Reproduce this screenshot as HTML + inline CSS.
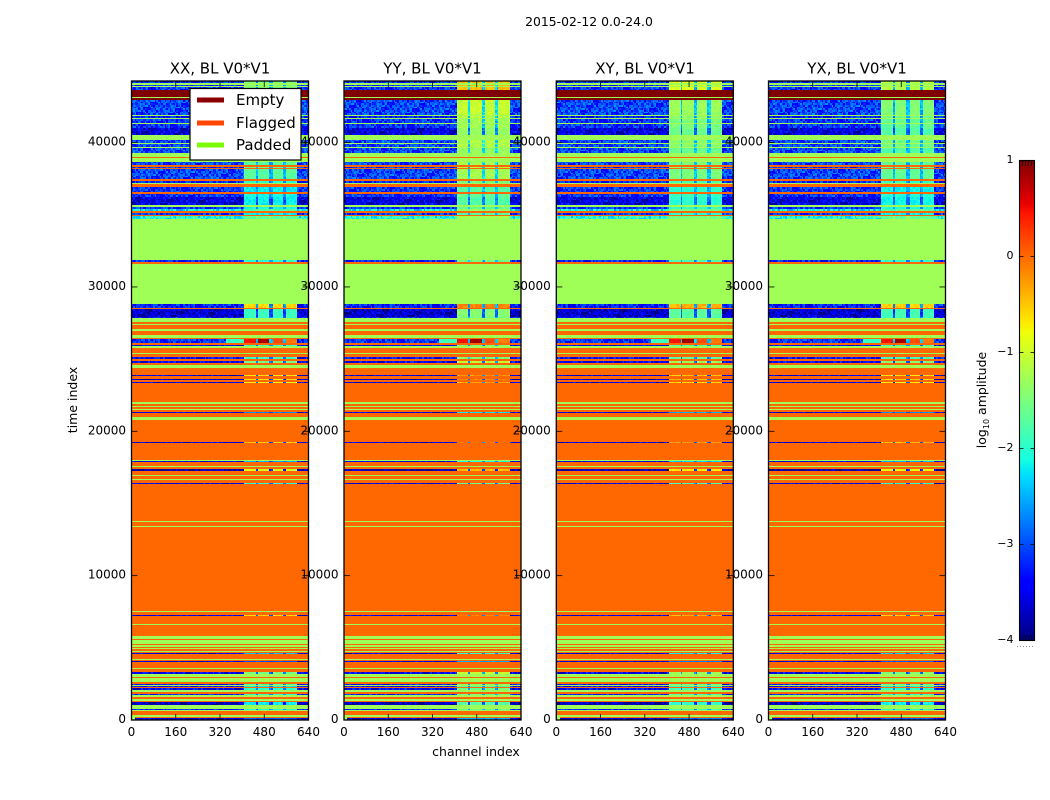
<!DOCTYPE html>
<html lang="en">
<head>
<meta charset="utf-8">
<title>2015-02-12 0.0-24.0</title>
<style>
html,body{margin:0;padding:0;background:#fff;}
svg{display:block;font-family:"DejaVu Sans","Liberation Sans",sans-serif;fill:#000;}
.cells rect{shape-rendering:crispEdges;}
</style>
</head>
<body>
<svg id="figure" width="1050" height="800" viewBox="0 0 1050 800" xmlns="http://www.w3.org/2000/svg">
  <rect width="1050" height="800" fill="#fff"/>
  <text x="589" y="26" font-size="12.4" text-anchor="middle">2015-02-12 0.0-24.0</text>
  <g id="panels"></g>
  <g font-size="15" text-anchor="middle">
    <text x="220" y="73.5">XX, BL V0*V1</text>
    <text x="432.5" y="73.5">YY, BL V0*V1</text>
    <text x="645" y="73.5">XY, BL V0*V1</text>
    <text x="857" y="73.5">YX, BL V0*V1</text>
  </g>
  <text x="476" y="756" font-size="12.5" text-anchor="middle">channel index</text>
  <text transform="translate(77 400) rotate(-90)" font-size="12.5" text-anchor="middle">time index</text>
  <g>
    <rect x="190" y="88.5" width="111" height="71.5" fill="#fff" stroke="#000" stroke-width="1.2"/>
    <rect x="197" y="97.5" width="27" height="5" fill="#8b0000"/>
    <text x="236" y="105" font-size="15" fill="#000">Empty</text>
    <rect x="197" y="120.5" width="27" height="5" fill="#ff4500"/>
    <text x="236" y="128" font-size="15" fill="#000">Flagged</text>
    <rect x="197" y="142.5" width="27" height="5" fill="#7cfc00"/>
    <text x="236" y="150" font-size="15" fill="#000">Padded</text>
  </g>
  <g id="colorbar"></g>
  <text transform="translate(986 400) rotate(-90)" font-size="12.5" text-anchor="middle">log<tspan font-size="8" dy="3">10</tspan><tspan dy="-3"> amplitude</tspan></text>
</svg>
<script>
// Time-index start of each horizontal band in the waterfall, bottom to top.
const bandStarts = [0,118,229,326,644,714,762,1039,1247,1337,1476,1614,1711,1801,1940,2099,2196,2286,2356,2425,2515,2633,2910,2979,3208,3305,3533,3603,4018,4087,4157,4226,4572,4642,4711,4801,4898,4988,5078,5175,5265,5563,5632,5820,6582,6651,7205,7274,7482,7552,13371,13440,13717,13787,16350,16419,16627,16696,16904,16974,17251,17389,17528,17597,17874,17943,18013,19191,19260,20784,20992,21269,21338,21477,21546,21685,21754,21892,22031,23347,23417,23555,23625,23832,23902,24408,24595,24733,24872,25010,25149,25357,25447,25772,25931,26000,26118,26361,26465,26673,26950,27088,27365,27435,27594,27850,27920,28474,28543,28820,31612,31751,31869,34674,34917,35007,35125,35263,35402,35540,35679,36233,36441,36545,36925,37134,37203,37342,37481,38153,38222,38333,38451,38680,38900,38970,39281,39628,39718,39905,39995,40182,40528,41018,41295,41365,41642,41711,41815,41919,42958,43096,43165,43650,43837,43927,44017,44114];
// log10 amplitude of each band outside the high-channel block.
const bandLevels = [-3.4,0,-1.28,0,-1.28,-3.1,-1.28,-3.6,0,-1.28,0,-1.28,-3.1,0,-1.28,-3.3,0,-3.2,-1.28,-3.2,0,-1.28,0,-1.28,-3.3,0,-1.28,0,-3.4,0,-1.28,0,-3.4,0,-1.28,0,-1.28,0,-1.28,0,-1.28,0,-1.28,0,-1.28,0,-3.4,0,-1.28,0,-1.28,0,-1.28,0,-3.4,0,-1.28,0,-1.28,0,-3.7,0,-1.28,0,-3.4,-1.28,0,-3.4,0,-1.28,0,-3.4,0,-1.28,0,-1.28,0,-1.28,0,-3.4,0,-3.5,0,-3.4,0,-1.28,0,-3.3,0,-3.2,0,-1.28,0,-1.28,-3.3,0,-3,0,-1.28,0,-1.28,0,-1.28,0,-1.28,-3.2,-3.5,0,-3.1,-1.28,0,-3.1,-1.28,-1.9,0,-3.0,0,-2.1,-3.0,-1.28,-3.4,-3.0,0,-3.0,0,-1.28,-3.1,0,-2.9,0,-3.0,0,-2.9,-1.28,0,-1.28,-2.9,-1.28,-2.9,-1.28,-2.9,-1.28,-3.4,-3.0,-1.28,-3,-1.28,-3.1,-1.28,-2.9,1,-1.28,1,-3,-1.28,-3,-1.28,-3];
// log10 amplitude of each band across channels 406-599; null marks a flat, noise-free band.
const bandHighLevels = [-3,null,null,null,null,-2,null,-2.2,null,null,null,null,-1.9,null,null,-2,null,-2.2,null,-1.8,null,null,null,null,-1.5,null,null,null,-3,null,null,null,-2.4,null,null,null,null,null,null,null,null,null,null,null,null,null,-0.6,null,null,null,null,null,null,null,-2,null,null,null,null,null,-0.9,null,null,null,-2.5,null,null,-0.5,null,null,null,-2.7,null,null,null,null,null,null,null,-0.8,null,-0.6,null,-0.7,null,null,null,-1.5,null,-1.9,null,null,null,null,-1.9,null,0.5,null,null,null,null,null,null,null,null,-2,-1.9,null,-0.6,null,null,-2,null,-1.7,null,-2.2,null,-1.8,-2.1,null,-2.2,-2.1,null,-2.2,null,null,-2,null,-1.7,null,-1.6,null,-1.7,null,null,null,-1.8,null,-1.6,null,-1.6,null,-1.8,-1.7,null,-1.7,null,-1.6,null,-1.5,null,null,null,-1.5,null,-1.5,null,-1.5];
// Amplitude shift of the high-channel block in each panel, and the panel names.
const panelNames = ['xx','yy','xy','yx'];
const panelHighGain = [0,0.45,0.2,0.05];
// Extra shift of the topmost bands (time index above topBandsFrom) in each panel.
const panelTopGain = [0,0.6,0.4,0.3];
const topBandsFrom = [43650];
// Offsets of the strongest band's four high-channel segments.
const hotOffsets = [-0.05,0.35,-0.35,-0.6];
// Hand-estimated speckle texture for the noisy bands.
const speckle = [0.32,-0.41,0.12,0.5,-0.18,-0.52,0.27,0.05,-0.33,0.44,-0.09,0.21,-0.47,0.36,-0.25,0.02,0.53,-0.38,0.15,-0.12,-0.55,0.41,0.08,-0.29,0.24,-0.44,0.48,-0.03,0.19,-0.36,0.3,-0.21,0.11,-0.5,0.39,-0.07,0.46,-0.31,0.17,-0.15,0.26,-0.42,0.01,0.34,-0.49,0.43,-0.24,0.09,-0.11,0.51,-0.35,0.22,-0.46,0.14,0.37,-0.27,0.04,-0.19,0.29,-0.39,0.45];
// Padded patch in the bottom-left corner of each panel: channels and time span.
const cornerChannels = [12];
const cornerTimes = [300];
// Tick labels.
const xTicks = [0,160,320,480,640];
const yTicks = [0,10000,20000,30000,40000];
const colorTicks = [1,0,-1,-2,-3,-4];

const NS = 'http://www.w3.org/2000/svg';
const timeMax = 44268;
const chanMax = 640;
const panelLefts = [131.5,344,556.3,768.5];
const panelWidth = 177;
const plotTop = 81;
const plotBottom = 720;
const highFrom = 406;
const highTo = 599;
const gapChannels = [[448,457],[499,509],[548,560]];
const colStep = 6;
const rowStep = 120;
const noiseShift = -0.15;

function yScale(t){return plotBottom-(t/timeMax)*(plotBottom-plotTop);}
function xScale(c,i){return panelLefts[i]+(c/chanMax)*panelWidth;}
function cbScale(v){return 640-((v+4)/5)*480;}

function seg(pts,x){
  for(let k=1;k<pts.length;k++){
    if(x<=pts[k][0]){
      const a=pts[k-1],b=pts[k];
      return a[1]+(b[1]-a[1])*(x-a[0])/(b[0]-a[0]);
    }
  }
  return pts[pts.length-1][1];
}
const jetR=[[0,0],[0.35,0],[0.66,1],[0.89,1],[1,0.5]];
const jetG=[[0,0],[0.125,0],[0.375,1],[0.64,1],[0.91,0],[1,0]];
const jetB=[[0,0.5],[0.11,1],[0.34,1],[0.65,0],[1,0]];
function jet(v){
  const x=Math.max(0,Math.min(1,(v+4)/5));
  const c=p=>Math.round(seg(p,x)*255);
  return 'rgb('+c(jetR)+','+c(jetG)+','+c(jetB)+')';
}
function make(tag,attrs,parent){
  const el=document.createElementNS(NS,tag);
  for(const k in attrs){el.setAttribute(k,attrs[k]);}
  parent.appendChild(el);
  return el;
}
function cellValue(c,level,high,panel,band,col,row,t){
  const n=speckle[(col*7+row*11+panel*17+band*3)%speckle.length];
  const inHigh=c>=highFrom&&c<=highTo;
  if(high>0){
    if(inHigh){
      for(const g of gapChannels){if(c>=g[0]&&c<g[1]){return level+0.6+n*0.3;}}
      let s=0;
      if(c>=gapChannels[2][1]){s=3;}else if(c>=gapChannels[1][1]){s=2;}else if(c>=gapChannels[0][1]){s=1;}
      return high+hotOffsets[s]+n*0.1;
    }
    if(c>=345&&c<highFrom){return -1.9+n*0.2;}
    return level+noiseShift+n*0.7;
  }
  if(inHigh){
    for(const g of gapChannels){if(c>=g[0]&&c<g[1]){return level+0.4+panelHighGain[panel]*0.5+n*0.4;}}
    const extra=t>=topBandsFrom[0]?panelTopGain[panel]:0;
    return high+panelHighGain[panel]+extra+n*0.22;
  }
  return level+noiseShift+n*0.75;
}
function drawPanel(i){
  const g=make('g',{},document.getElementById('panels'));
  
  
  const cells=make('g',{class:'cells'},g);
  
  
  const x0=Math.round(xScale(0,i));
  const x1=Math.round(xScale(chanMax,i));
  for(let b=0;b<bandStarts.length;b++){
    const t0=bandStarts[b];
    const t1=b+1<bandStarts.length?bandStarts[b+1]:timeMax;
    const high=bandHighLevels[b];
    const level=bandLevels[b];
    if(high===null){
      const yA=Math.round(yScale(t1));
      const yB=Math.round(yScale(t0));
      const r=make('rect',{x:x0,y:yA,width:x1-x0,height:Math.max(1,yB-yA),fill:jet(level)},cells);
      
      
      continue;
    }
    const rows=Math.max(1,Math.round((t1-t0)/rowStep));
    for(let row=0;row<rows;row++){
      const ta=t0+(t1-t0)*row/rows;
      const tb=t0+(t1-t0)*(row+1)/rows;
      const yA=Math.round(yScale(tb));
      const yB=Math.round(yScale(ta));
      if(yB<=yA&&rows>1){continue;}
      for(let col=0;col*colStep<chanMax;col++){
        const c=col*colStep+colStep/2;
        const xa=Math.round(xScale(col*colStep,i));
        const xb=Math.round(xScale(Math.min(chanMax,(col+1)*colStep),i));
        if(xb<=xa){continue;}
        const v=cellValue(c,level,high,i,b,col,row,t0);
        const r=make('rect',{x:xa,y:yA,width:xb-xa,height:Math.max(1,yB-yA),fill:jet(v)},cells);
        
        
      }
    }
  }
  const cy=Math.round(yScale(cornerTimes[0]));
  const corner=make('rect',{x:x0,y:cy,width:Math.round(xScale(cornerChannels[0],i))-x0,height:plotBottom-cy,fill:jet(-1.28)},cells);
  
  
  const frame=make('rect',{x:panelLefts[i],y:plotTop,width:panelWidth,height:plotBottom-plotTop,fill:'none',stroke:'#000','stroke-width':1.3},g);
  
  
  for(const t of xTicks){
    const x=xScale(t,i);
    const lo=make('line',{x1:x,x2:x,y1:plotBottom,y2:plotBottom-6,stroke:'#000','stroke-width':0.8},g);
    
    
    const hi=make('line',{x1:x,x2:x,y1:plotTop,y2:plotTop+6,stroke:'#000','stroke-width':0.8},g);
    
    
    const lab=make('text',{x:x,y:736,'font-size':12,'text-anchor':'middle'},g);
    lab.textContent=String(t);
    
    
  }
  for(const t of yTicks){
    const y=yScale(t);
    const lo=make('line',{x1:panelLefts[i],x2:panelLefts[i]+6,y1:y,y2:y,stroke:'#000','stroke-width':0.8},g);
    
    
    const hi=make('line',{x1:panelLefts[i]+panelWidth,x2:panelLefts[i]+panelWidth-6,y1:y,y2:y,stroke:'#000','stroke-width':0.8},g);
    
    
    const lab=make('text',{x:panelLefts[i]-5.5,y:y+3,'font-size':12,'text-anchor':'end'},g);
    lab.textContent=String(t);
    
    
  }
}
function drawColorbar(){
  const g=document.getElementById('colorbar');
  const cells=make('g',{class:'cells'},g);
  
  
  const left=1019.5,right=1034.5;
  const steps=240;
  for(let k=0;k<steps;k++){
    const va=-4+5*k/steps;
    const vb=-4+5*(k+1)/steps;
    const yA=Math.round(cbScale(vb));
    const yB=Math.round(cbScale(va));
    const r=make('rect',{x:1019,y:yA,width:16,height:Math.max(1,yB-yA),fill:jet((va+vb)/2)},cells);
    
    
  }
  const f=make('rect',{x:left,y:160.5,width:right-left,height:480,fill:'none',stroke:'#000','stroke-width':1.1},g);
  
  
  for(const v of colorTicks){
    const y=cbScale(v)+0.5;
    const a=make('line',{x1:left,x2:left+4,y1:y,y2:y,stroke:'#000','stroke-width':0.8},g);
    
    
    const b=make('line',{x1:right,x2:right-4,y1:y,y2:y,stroke:'#000','stroke-width':0.8},g);
    
    
    const t=make('text',{x:1013.5,y:y+2.5,'font-size':11,'text-anchor':'end'},g);
    t.textContent=v<0?'\u2212'+Math.abs(v):String(v);
    
    
  }
  for(const c of xTicks.concat([800])){
    const x=left+(c/800)*(right-left);
    const a=make('line',{x1:x,x2:x,y1:161,y2:166,stroke:'#000','stroke-width':0.7},g);
    
    
    const b=make('line',{x1:x,x2:x,y1:640,y2:635,stroke:'#000','stroke-width':0.7},g);
    
    
  }
  const d=make('line',{x1:1017,x2:1035,y1:646.5,y2:646.5,stroke:'#888','stroke-width':1,'stroke-dasharray':'1 2'},g);
  
  
}
for(let i=0;i<panelLefts.length;i++){drawPanel(i);}
drawColorbar();
</script>
</body>
</html>
